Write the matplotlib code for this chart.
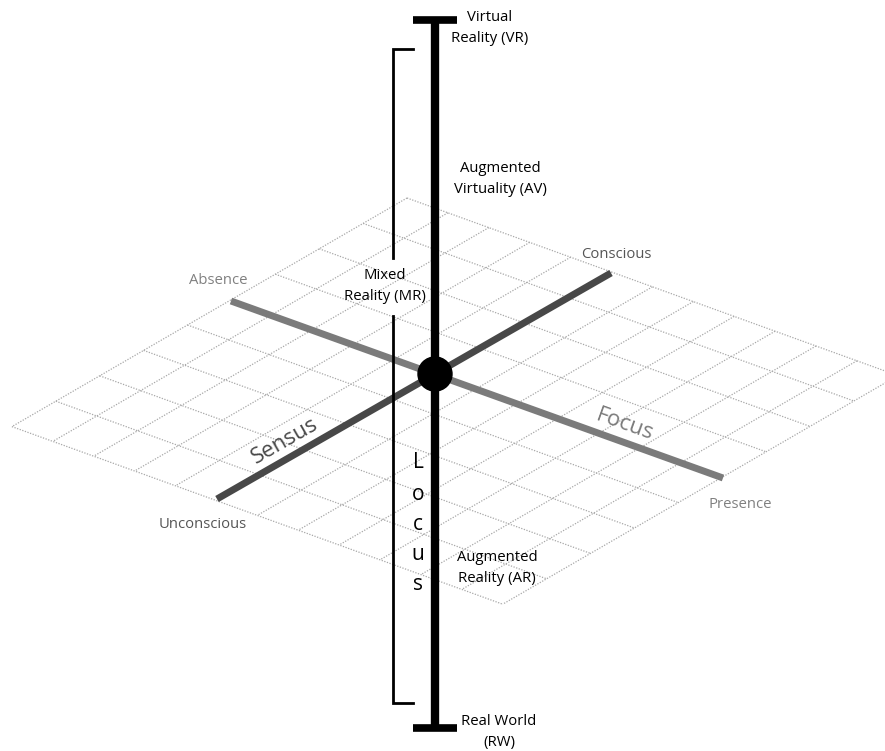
import matplotlib.pyplot as plt
import numpy as np
from matplotlib.patches import Circle

plt.rcParams['font.family'] = ['Open Sans', 'DejaVu Sans']

# plane grid (pixel space of the picture)
grid_top = np.array([407.0, 198.0])
step_u = np.array([40.9, 14.8])     # towards the right corner
step_v = np.array([-43.9, 25.4])    # towards the left corner
n_u = 12
n_v = 9

# the three axes
focus_axis = [(231, 301), (723, 478)]
sensus_axis = [(217, 499), (611, 273)]
locus_x = 435
locus_y = [20, 728]
cap_half = 22
centre = (435, 374)

# the Mixed Reality bracket
bracket_x = 393
bracket_tick = 413
bracket_upper = [49, 258]
bracket_lower = [316, 703]

# labels: text, x, y
reality_labels = [
    ("Virtual\nReality (VR)", 490, 28),
    ("Augmented\nVirtuality (AV)", 500, 179),
    ("Mixed\nReality (MR)", 385, 286),
    ("Augmented\nReality (AR)", 497, 568),
    ("Real World\n(RW)", 499, 732),
]
end_labels = [
    ("Absence", 218, 281, "#808080"),
    ("Presence", 740, 504, "#808080"),
    ("Conscious", 616, 255, "#555555"),
    ("Unconscious", 203, 524, "#555555"),
]
locus_letters = ["L", "o", "c", "u", "s"]
locus_letter_y = [462, 494, 524, 554, 585]

fig = plt.figure(figsize=(8.85, 7.51), dpi=100)
ax = fig.add_axes([0, 0, 1, 1])
ax.set_xlim(0, 885)
ax.set_ylim(751, 0)
ax.set_aspect('equal')
ax.axis('off')

# dotted plane
for i in range(n_u + 1):
    a = grid_top + i * step_u
    b = a + n_v * step_v
    ax.plot([a[0], b[0]], [a[1], b[1]], color="#a8a8a8", lw=0.9, ls=(0, (1, 1.2)), zorder=1)
for j in range(n_v + 1):
    a = grid_top + j * step_v
    b = a + n_u * step_u
    ax.plot([a[0], b[0]], [a[1], b[1]], color="#a8a8a8", lw=0.9, ls=(0, (1, 1.2)), zorder=1)

# Focus and Sensus axes
fx, fy = zip(*focus_axis)
ax.plot(fx, fy, color="#7b7b7b", lw=5, solid_capstyle='butt', zorder=2)
sx, sy = zip(*sensus_axis)
ax.plot(sx, sy, color="#484848", lw=5, solid_capstyle='butt', zorder=2)

# bracket
ax.plot([bracket_tick, bracket_x, bracket_x], [bracket_upper[0], bracket_upper[0], bracket_upper[1]],
        color="black", lw=2, zorder=3, solid_joinstyle='miter')
ax.plot([bracket_x, bracket_x, bracket_tick], [bracket_lower[0], bracket_lower[1], bracket_lower[1]],
        color="black", lw=2, zorder=3, solid_joinstyle='miter')

# Locus axis with caps
ax.plot([locus_x, locus_x], locus_y, color="black", lw=6, solid_capstyle='butt', zorder=4)
for y in locus_y:
    ax.plot([locus_x - cap_half, locus_x + cap_half], [y, y], color="black", lw=5.5,
            solid_capstyle='butt', zorder=4)

ax.add_patch(Circle(centre, 17, color="black", zorder=5))

for txt, x, y in reality_labels:
    ax.text(x, y, txt, ha="center", va="center", fontsize=10.7, color="black",
            linespacing=1.5, zorder=6)
for txt, x, y, c in end_labels:
    ax.text(x, y, txt, ha="center", va="center", fontsize=10.7, color=c, zorder=6)

ax.text(285, 441, "Sensus", ha="center", va="center", fontsize=16, color="#484848",
        rotation=29.8, rotation_mode="anchor", zorder=6)
ax.text(625, 425, "Focus", ha="center", va="center", fontsize=16, color="#7b7b7b",
        rotation=-19.8, rotation_mode="anchor", zorder=6)

for ch, y in zip(locus_letters, locus_letter_y):
    ax.text(418, y, ch, ha="center", va="center", fontsize=15, color="black", zorder=6)

fig.savefig("out.png", dpi=100, facecolor="white")
